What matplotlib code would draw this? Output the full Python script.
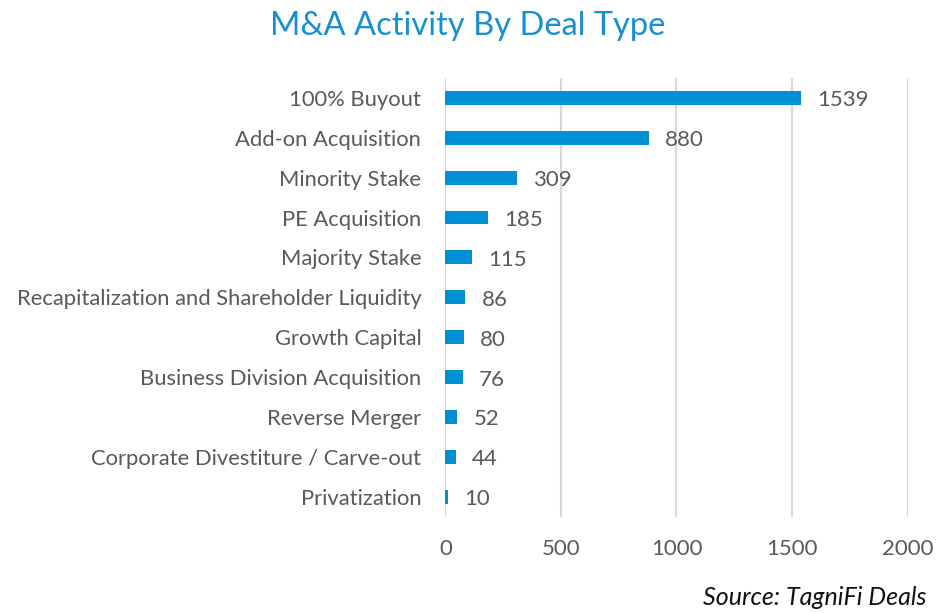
import matplotlib
matplotlib.use("Agg")
import matplotlib.pyplot as plt

categories = ["100% Buyout", "Add-on Acquisition", "Minority Stake", "PE Acquisition",
              "Majority Stake", "Recapitalization and Shareholder Liquidity", "Growth Capital",
              "Business Division Acquisition", "Reverse Merger",
              "Corporate Divestiture / Carve-out", "Privatization"]
deals = [1539, 880, 309, 185, 115, 86, 80, 76, 52, 44, 10]
xticks = [0, 500, 1000, 1500, 2000]

blue = "#0090d4"
grey = "#595959"

plt.rcParams["font.family"] = ["Lato", "DejaVu Sans"]

fig = plt.figure(figsize=(9.36, 6.13), dpi=100)
ax = fig.add_axes([0.4754, 0.157, 0.4947, 0.716])

pos = list(range(len(categories)))
ax.barh(pos, deals, height=0.35, color=blue, zorder=3)
for p, v in zip(pos, deals):
    ax.text(v + 70, p + 0.06, str(v), va="center", ha="left", fontsize=16, color=grey)

ax.set_yticks(pos)
ax.set_yticklabels(categories, fontsize=15.8, color=grey)
ax.set_ylim(len(categories) - 0.5, -0.5)
ax.set_xticks(xticks)
ax.set_xticklabels([str(t) for t in xticks], fontsize=16, color=grey)
ax.tick_params(axis="both", length=0)
ax.tick_params(axis="y", pad=17)
ax.tick_params(axis="x", pad=16)
ax.grid(axis="x", color="#d9d9d9", linewidth=1.5, zorder=0)
for s in ax.spines.values():
    s.set_visible(False)
ax.set_xlim(-2, 2002)

fig.text(0.5, 0.958, "M&A Activity By Deal Type", ha="center", va="center",
         fontsize=23.5, color="#1a8fd0")
fig.text(0.99, 0.025, "Source: TagniFi Deals", ha="right", va="center",
         fontsize=18, style="italic", color="#111111")

fig.savefig("out.png", dpi=100)
